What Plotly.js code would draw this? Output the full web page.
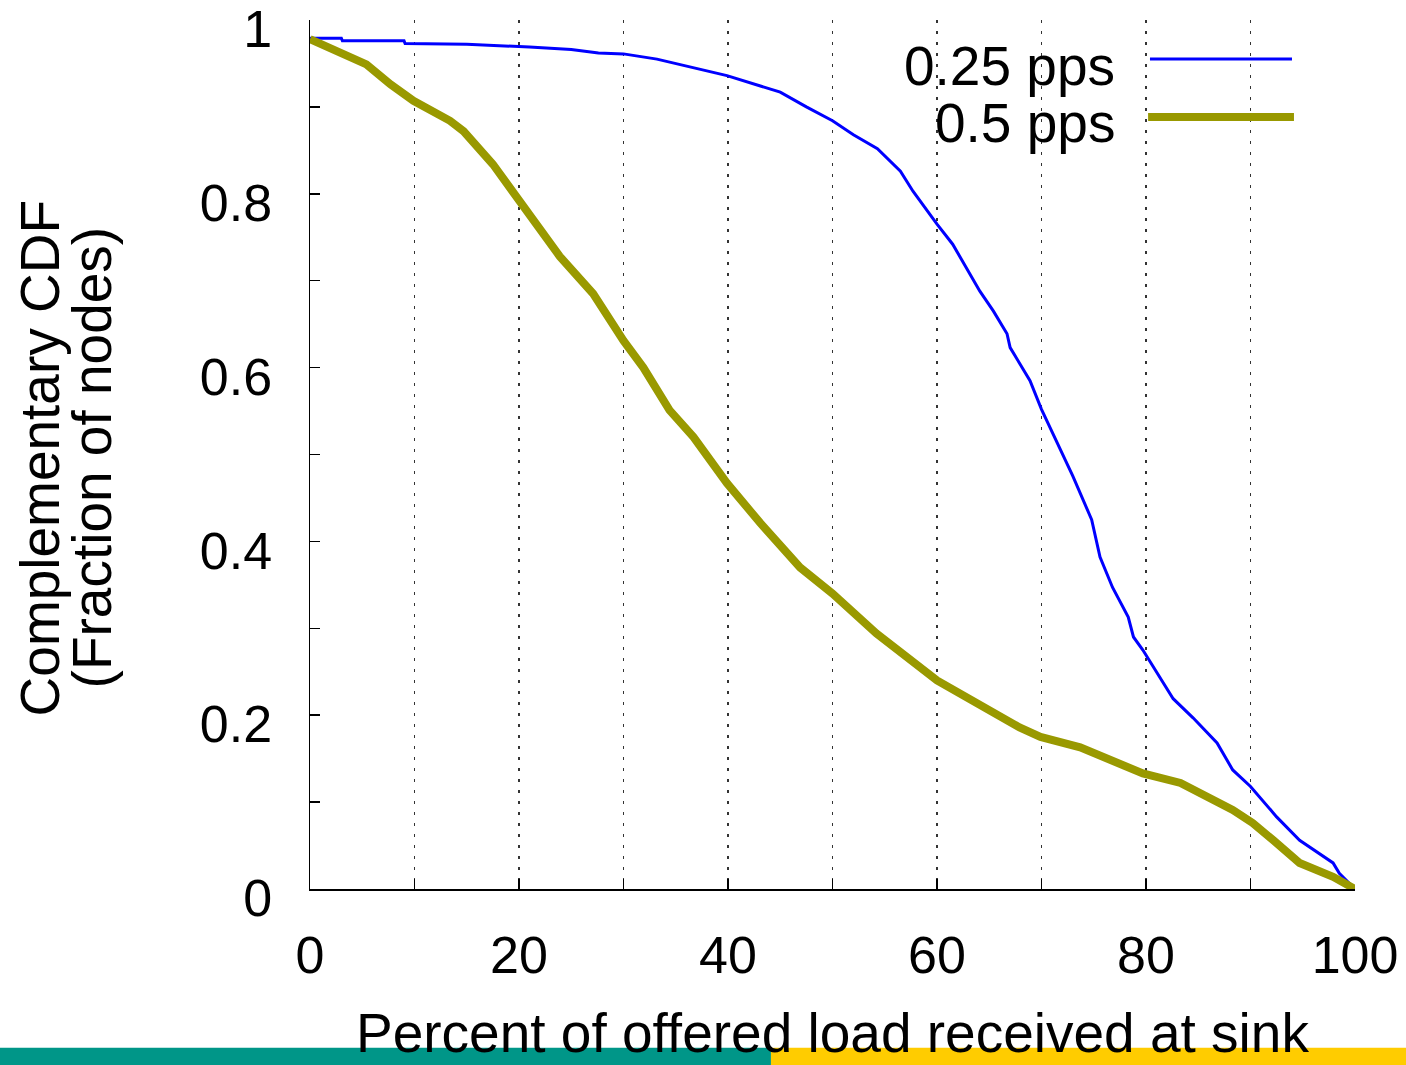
<!DOCTYPE html>
<html>
<head>
<meta charset="utf-8">
<script src="https://cdn.plot.ly/plotly-3.0.1.min.js"></script>
<style>html,body{margin:0;padding:0;background:#fff;}#chart{width:1406px;height:1065px;}</style>
</head>
<body>
<div id="chart"></div>
<script>
// 0.25 pps series
const x025 = [0, 3, 3.1, 9, 9.1, 15, 21, 25, 27.6, 30, 33.2, 36, 39.9, 43.1, 45, 47.5, 50, 52, 54.3, 56.5, 57.7, 60, 61.5, 64.1, 65.4, 66.7, 67, 68.9, 70, 73, 74.8, 75.6, 76.8, 78.3, 78.8, 79.7, 82.6, 84.5, 86.8, 88.3, 90, 92.5, 94.7, 97.9, 98.5, 100];
const y025 = [0.979, 0.979, 0.976, 0.976, 0.973, 0.972, 0.969, 0.966, 0.962, 0.961, 0.955, 0.947, 0.936, 0.924, 0.917, 0.900, 0.884, 0.868, 0.852, 0.826, 0.803, 0.765, 0.742, 0.688, 0.665, 0.639, 0.623, 0.585, 0.552, 0.475, 0.425, 0.382, 0.347, 0.313, 0.290, 0.275, 0.219, 0.197, 0.168, 0.137, 0.118, 0.083, 0.056, 0.030, 0.018, 0.0];
// 0.5 pps series
const x05 = [0, 2.5, 5.4, 7.7, 9.9, 13.4, 14.7, 17.5, 20.1, 21.7, 23.9, 27.1, 30, 31.9, 34.4, 36.7, 38.6, 39.9, 43.1, 46.9, 50, 54.2, 60, 63.8, 67.9, 69.9, 73.7, 79.7, 83.3, 88.3, 90.2, 92.2, 94.7, 97.9, 100];
const y05 = [0.978, 0.965, 0.949, 0.926, 0.907, 0.884, 0.872, 0.834, 0.792, 0.765, 0.728, 0.685, 0.631, 0.600, 0.551, 0.520, 0.490, 0.467, 0.421, 0.370, 0.340, 0.294, 0.240, 0.214, 0.186, 0.175, 0.163, 0.133, 0.122, 0.091, 0.076, 0.056, 0.030, 0.014, 0.0];

const seriesNames = ["0.25 pps", "0.5 pps"];
const seriesColors = ["#0000ff", "#999900"];
const seriesWidths = [3, 8];
const xTitle = "Percent of offered load received at sink";
const yTitleLines = ["Complementary CDF", "(Fraction of nodes)"];

const FONT = "Liberation Sans, Arial, sans-serif";

const traces = [
  {x: x025, y: y025, name: seriesNames[0], type: "scatter", mode: "lines",
   line: {color: seriesColors[0], width: seriesWidths[0], shape: "linear"}, showlegend: false},
  {x: x05, y: y05, name: seriesNames[1], type: "scatter", mode: "lines",
   line: {color: seriesColors[1], width: seriesWidths[1], shape: "linear"}, showlegend: false}
];

const gridStyle = {showgrid: true, gridcolor: "#333", griddash: "3px,8px", gridwidth: 1.5};

const layout = {
  width: 1406, height: 1065,
  margin: {l: 310, r: 51, t: 20, b: 176, pad: 0},
  paper_bgcolor: "#fff", plot_bgcolor: "#fff",
  font: {family: FONT, color: "#000"},
  showlegend: false,
  xaxis: Object.assign({
    range: [0, 100], tick0: 0, dtick: 20,
    ticks: "inside", ticklen: 10, tickwidth: 1.5, tickcolor: "#000",
    showline: true, linecolor: "#000", linewidth: 2, zeroline: false,
    tickfont: {size: 52, family: FONT, color: "#000"},
    ticklabelstandoff: 20, ticklabeloverflow: "allow",
    minor: Object.assign({dtick: 10, ticks: "inside", ticklen: 10, tickwidth: 1.5, tickcolor: "#000"}, gridStyle)
  }, gridStyle),
  yaxis: {
    range: [0, 1], tick0: 0, dtick: 0.2,
    ticks: "inside", ticklen: 10, tickwidth: 1.5, tickcolor: "#000",
    showline: true, linecolor: "#000", linewidth: 1.5, zeroline: false, showgrid: false,
    tickfont: {size: 52, family: FONT, color: "#000"},
    ticklabelstandoff: 26, ticklabelshift: 9, ticklabeloverflow: "allow",
    minor: {dtick: 0.1, ticks: "inside", ticklen: 10, tickwidth: 1.5, tickcolor: "#000", showgrid: false}
  },
  annotations: [
    {xref: "paper", yref: "paper", x: 0.5, y: -0.1655, text: xTitle,
     showarrow: false, xanchor: "center", yanchor: "middle", font: {size: 55, family: FONT, color: "#000"}},
    {xref: "paper", yref: "paper", x: -0.2584, y: 0.4966, text: yTitleLines[0], textangle: -90,
     showarrow: false, xanchor: "center", yanchor: "middle", font: {size: 55, family: FONT, color: "#000"}},
    {xref: "paper", yref: "paper", x: -0.2077, y: 0.4966, text: yTitleLines[1], textangle: -90,
     showarrow: false, xanchor: "center", yanchor: "middle", font: {size: 55, family: FONT, color: "#000"}},
    {xref: "paper", yref: "paper", x: 0.7722, y: 0.9472, text: seriesNames[0], showarrow: false,
     xanchor: "right", yanchor: "middle", font: {size: 55, family: FONT, color: "#000"}},
    {xref: "paper", yref: "paper", x: 0.7722, y: 0.8817, text: seriesNames[1], showarrow: false,
     xanchor: "right", yanchor: "middle", font: {size: 55, family: FONT, color: "#000"}}
  ],
  shapes: [
    {type: "line", xref: "paper", yref: "paper", x0: 0.8038, x1: 0.9397, y0: 0.9552, y1: 0.9552,
     line: {color: seriesColors[0], width: seriesWidths[0]}},
    {type: "line", xref: "paper", yref: "paper", x0: 0.802, x1: 0.9416, y0: 0.8885, y1: 0.8885,
     line: {color: seriesColors[1], width: seriesWidths[1]}},
    {type: "rect", xref: "paper", yref: "paper", x0: -0.2967, x1: 0.4411, y0: -0.1828, y1: -0.21,
     fillcolor: "#009688", line: {width: 0}, layer: "below"},
    {type: "rect", xref: "paper", yref: "paper", x0: 0.4411, x1: 1.0488, y0: -0.1828, y1: -0.21,
     fillcolor: "#ffcc00", line: {width: 0}, layer: "below"}
  ]
};

Plotly.newPlot("chart", traces, layout, {displayModeBar: false, staticPlot: true});
</script>
</body>
</html>
